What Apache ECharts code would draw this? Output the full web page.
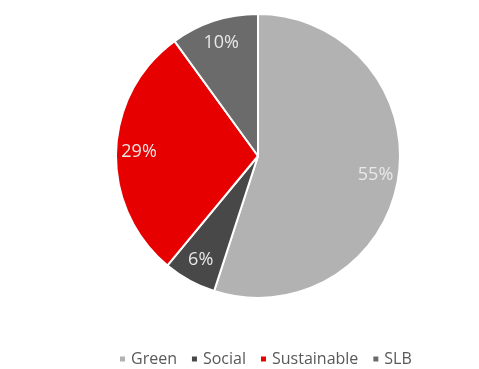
<!DOCTYPE html>
<html>
<head>
<meta charset="utf-8">
<script src="https://cdn.jsdelivr.net/npm/echarts@6/dist/echarts.min.js"></script>
<style>
  html, body { margin: 0; padding: 0; background: #fff; }
  #chart { width: 479px; height: 369px; }
</style>
</head>
<body>
<div id="chart"></div>
<script>
// Bond issuance split by label type
const categories = ['Green', 'Social', 'Sustainable', 'SLB'];
const shares = [55, 6, 29, 10];
const colors = ['#B2B2B2', '#484848', '#E60000', '#6B6B6B'];

const FONT = '"Open Sans", "Noto Sans", sans-serif';
const center = [258, 156];
const outerR = 142;

const pieData = categories.map((name, i) => ({
  name,
  value: shares[i],
  itemStyle: { color: colors[i] }
}));

const chart = echarts.init(document.getElementById('chart'), null, { renderer: 'canvas' });
chart.setOption({
  animation: false,
  legend: {
    data: categories,
    top: 346,
    left: 113,
    icon: 'rect',
    itemWidth: 7,
    itemHeight: 7,
    itemGap: 13,
    textStyle: { fontFamily: FONT, fontSize: 16, color: '#595959' }
  },
  series: [
    {
      type: 'pie',
      center,
      radius: [0, outerR],
      startAngle: 90,
      clockwise: true,
      data: pieData,
      itemStyle: { borderColor: '#fff', borderWidth: 2 },
      label: { show: false },
      labelLine: { show: false },
      emphasis: { disabled: true }
    },
    {
      // transparent ring carrying the percentage labels near the rim
      type: 'pie',
      center,
      radius: [90, outerR],
      startAngle: 90,
      clockwise: true,
      silent: true,
      data: pieData.map(d => ({ name: d.name, value: d.value, itemStyle: { color: 'rgba(0,0,0,0)' } })),
      label: {
        show: true,
        position: 'inside',
        formatter: p => p.value + '%',
        fontFamily: FONT,
        fontSize: 18,
        color: '#E8E8E8'
      },
      labelLine: { show: false },
      emphasis: { disabled: true }
    }
  ]
});
</script>
</body>
</html>
